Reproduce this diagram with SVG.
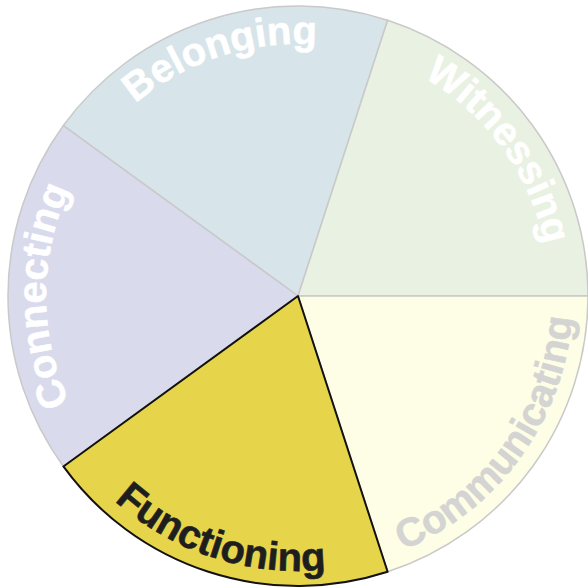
<svg xmlns="http://www.w3.org/2000/svg" width="588" height="588" viewBox="0 0 588 588">
  <style>
    .seg { stroke: #c9c9c9; stroke-width: 1.5; stroke-linejoin: round; }
    .sel { stroke: #111111; stroke-width: 2; }
    .lbl { font-family: "Liberation Sans", Arial, Helvetica, sans-serif; font-weight: bold; font-size: 40px; stroke-width: 0.6; stroke-linejoin: round; }
    .white { fill: #ffffff; stroke: #ffffff; }
    .grey { fill: #d4d4d2; stroke: #d4d4d2; }
    .dark { fill: #1e1e1e; stroke: #1e1e1e; }
  </style>
  <defs>
    <path id="p-belonging" d="M 94.13 147.88 A 252 252 0 0 1 375.87 56.33"/>
    <path id="p-witnessing" d="M 375.87 56.33 A 252 252 0 0 1 550 296"/>
    <path id="p-connecting" d="M 94.13 444.12 A 252 252 0 0 1 94.13 147.88"/>
    <path id="p-communicating" d="M 382.98 557.54 A 275 275 0 0 0 573 296"/>
    <path id="p-functioning" d="M 75.52 457.64 A 275 275 0 0 0 382.98 557.54"/>
  </defs>
  <rect width="588" height="588" fill="#ffffff"/>

  <g id="belonging">
    <path class="seg" fill="#d7e5ea" d="M 298 296 L 63.38 125.54 A 290 290 0 0 1 387.62 20.19 Z"/>
    <text class="lbl white"><textPath href="#p-belonging" startOffset="50%" text-anchor="middle">Belonging</textPath></text>
  </g>

  <g id="witnessing">
    <path class="seg" fill="#e9f1e2" d="M 298 296 L 387.62 20.19 A 290 290 0 0 1 588 296 Z"/>
    <text class="lbl white"><textPath href="#p-witnessing" startOffset="50%" text-anchor="middle">Witnessing</textPath></text>
  </g>

  <g id="communicating">
    <path class="seg" fill="#fefee6" d="M 298 296 L 588 296 A 290 290 0 0 1 387.62 571.81 Z"/>
    <text class="lbl grey"><textPath href="#p-communicating" startOffset="50%" text-anchor="middle">Communicating</textPath></text>
  </g>

  <g id="connecting">
    <path class="seg" fill="#d9dbec" d="M 298 296 L 63.38 466.46 A 290 290 0 0 1 63.38 125.54 Z"/>
    <text class="lbl white"><textPath href="#p-connecting" startOffset="50%" text-anchor="middle">Connecting</textPath></text>
  </g>

  <g id="functioning">
    <path class="seg sel" fill="#e6d44b" d="M 298 296 L 387.62 571.81 A 290 290 0 0 1 63.38 466.46 Z"/>
    <text class="lbl dark"><textPath href="#p-functioning" startOffset="50%" text-anchor="middle">Functioning</textPath></text>
  </g>

  <g id="connectors"></g>
</svg>
